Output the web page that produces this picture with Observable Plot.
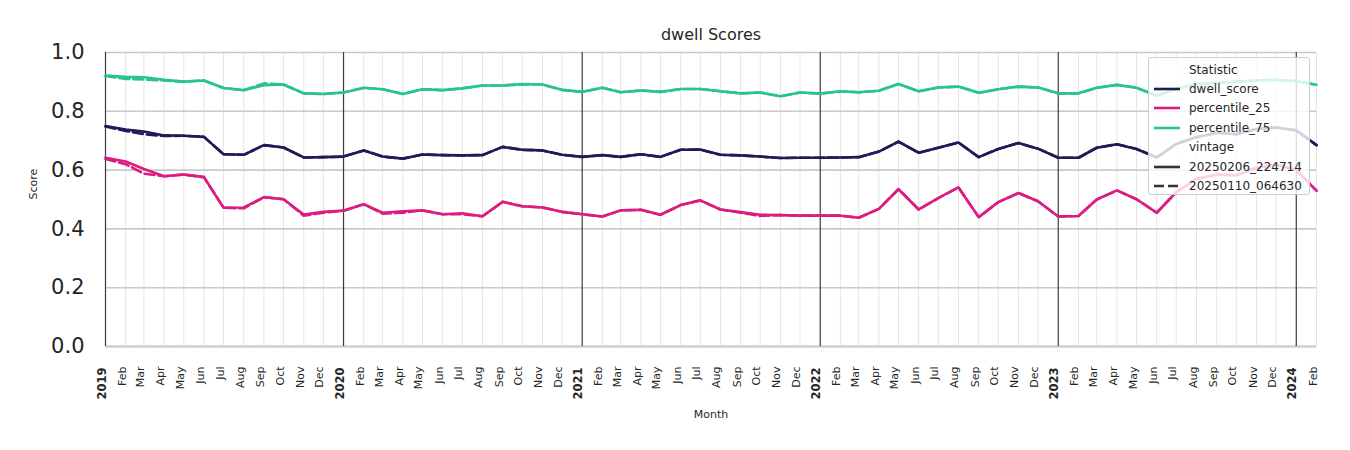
<!DOCTYPE html>
<html><head><meta charset="utf-8">
<script src="https://cdn.jsdelivr.net/npm/d3@7"></script>
<script src="https://cdn.jsdelivr.net/npm/@observablehq/plot@0.6"></script>
<style>
body{margin:0;background:#fff;font-family:"DejaVu Sans",sans-serif;}
#wrap{position:relative;width:1350px;height:450px;}
.legend{position:absolute;left:1148px;top:57px;width:162px;height:138px;background:rgba(255,255,255,0.8);border:1px solid #cccccc;border-radius:3px;box-sizing:border-box;}
.row{position:absolute;left:0;height:18px;line-height:18px;font-size:12px;color:#262626;white-space:nowrap;}
.row svg{position:absolute;left:3px;top:0;}
.row span{position:absolute;left:40px;top:0;}
</style></head><body><div id="wrap"></div>
<script>
// ---- data ----
const stats = ["dwell_score", "percentile_25", "percentile_75"];
const statColors = ["#1e1b58", "#dc1c80", "#28c48f"];
const vintages = ["20250206_224714", "20250110_064630"];
const yTicks = [0, 0.2, 0.4, 0.6, 0.8, 1.0];
const months = d3.utcMonth.range(new Date(Date.UTC(2019, 0, 1)), new Date(Date.UTC(2024, 2, 1)));

// vintage 20250206_224714 (solid)
const dwellScore = [
  0.750, 0.738, 0.731, 0.718, 0.717, 0.713, 0.654, 0.652, 0.685, 0.677, 0.643, 0.644,
  0.646, 0.667, 0.646, 0.639, 0.653, 0.651, 0.650, 0.651, 0.679, 0.669, 0.667, 0.652,
  0.645, 0.651, 0.645, 0.654, 0.645, 0.669, 0.670, 0.652, 0.650, 0.646, 0.641, 0.642,
  0.642, 0.643, 0.644, 0.663, 0.697, 0.659, 0.676, 0.694, 0.644, 0.672, 0.692, 0.673,
  0.642, 0.642, 0.676, 0.688, 0.672, 0.643, 0.689, 0.712, 0.727, 0.722, 0.740, 0.745,
  0.735, 0.685];
const percentile25 = [
  0.642, 0.629, 0.604, 0.579, 0.585, 0.576, 0.472, 0.473, 0.508, 0.501, 0.449, 0.458,
  0.462, 0.484, 0.455, 0.460, 0.463, 0.450, 0.453, 0.443, 0.492, 0.477, 0.473, 0.458,
  0.450, 0.442, 0.463, 0.465, 0.448, 0.481, 0.497, 0.466, 0.457, 0.448, 0.447, 0.445,
  0.445, 0.445, 0.438, 0.468, 0.535, 0.466, 0.505, 0.541, 0.440, 0.491, 0.522, 0.494,
  0.442, 0.444, 0.500, 0.531, 0.501, 0.455, 0.525, 0.570, 0.585, 0.582, 0.608, 0.619,
  0.600, 0.530];
const percentile75 = [
  0.922, 0.917, 0.916, 0.907, 0.901, 0.905, 0.879, 0.872, 0.889, 0.891, 0.861, 0.859,
  0.864, 0.880, 0.875, 0.859, 0.875, 0.872, 0.878, 0.888, 0.888, 0.893, 0.891, 0.873,
  0.866, 0.880, 0.865, 0.871, 0.866, 0.876, 0.876, 0.868, 0.861, 0.864, 0.851, 0.864,
  0.860, 0.868, 0.865, 0.870, 0.893, 0.868, 0.881, 0.884, 0.863, 0.875, 0.884, 0.881,
  0.861, 0.861, 0.880, 0.890, 0.880, 0.853, 0.876, 0.893, 0.897, 0.901, 0.905, 0.907,
  0.902, 0.890];

// vintage 20250110_064630 (dashed)
const dwellScoreOld = [
  0.748, 0.733, 0.722, 0.716, 0.717, 0.713, 0.654, 0.652, 0.685, 0.677, 0.643, 0.644,
  0.646, 0.667, 0.646, 0.639, 0.653, 0.651, 0.650, 0.651, 0.679, 0.669, 0.667, 0.652,
  0.645, 0.651, 0.645, 0.654, 0.645, 0.669, 0.670, 0.652, 0.650, 0.646, 0.641, 0.642,
  0.642, 0.643, 0.644, 0.663, 0.697, 0.659, 0.676, 0.694, 0.644, 0.672, 0.692, 0.673,
  0.642, 0.642, 0.676, 0.688, 0.672, 0.643, 0.689, 0.712, 0.727, 0.722, 0.740, 0.745,
  0.735, 0.685];
const percentile25Old = [
  0.638, 0.620, 0.588, 0.579, 0.585, 0.576, 0.472, 0.470, 0.508, 0.501, 0.445, 0.455,
  0.462, 0.484, 0.452, 0.455, 0.463, 0.450, 0.450, 0.443, 0.492, 0.477, 0.473, 0.458,
  0.450, 0.442, 0.463, 0.465, 0.448, 0.481, 0.497, 0.466, 0.455, 0.444, 0.447, 0.445,
  0.445, 0.445, 0.438, 0.468, 0.535, 0.466, 0.505, 0.541, 0.440, 0.491, 0.522, 0.494,
  0.442, 0.444, 0.500, 0.531, 0.501, 0.455, 0.525, 0.570, 0.585, 0.582, 0.608, 0.619,
  0.600, 0.530];
const percentile75Old = [
  0.920, 0.910, 0.908, 0.905, 0.901, 0.905, 0.879, 0.872, 0.895, 0.891, 0.861, 0.859,
  0.864, 0.880, 0.875, 0.859, 0.875, 0.872, 0.878, 0.888, 0.888, 0.891, 0.891, 0.873,
  0.866, 0.880, 0.865, 0.871, 0.866, 0.876, 0.876, 0.868, 0.861, 0.864, 0.851, 0.864,
  0.860, 0.868, 0.865, 0.870, 0.893, 0.868, 0.881, 0.884, 0.863, 0.875, 0.884, 0.881,
  0.861, 0.861, 0.880, 0.890, 0.880, 0.853, 0.876, 0.893, 0.897, 0.901, 0.905, 0.907,
  0.902, 0.890];

// ---- build table ----
const seriesByVintage = {
  [vintages[0]]: [dwellScore, percentile25, percentile75],
  [vintages[1]]: [dwellScoreOld, percentile25Old, percentile75Old]
};
const rows = [];
for (const v of vintages) {
  seriesByVintage[v].forEach((vals, si) => {
    vals.forEach((val, i) => rows.push({date: months[i], value: val, stat: stats[si], vintage: v}));
  });
}
const solidRows = rows.filter(d => d.vintage === vintages[0]);
const dashedRows = rows.filter(d => d.vintage === vintages[1]);
const yearMonths = months.filter(d => d.getUTCMonth() === 0);
const otherMonths = months.filter(d => d.getUTCMonth() !== 0);
const fmtMonth = d3.utcFormat("%b");

const chart = Plot.plot({
  width: 1350, height: 450,
  marginLeft: 105, marginRight: 34, marginTop: 52, marginBottom: 104,
  style: {fontFamily: "DejaVu Sans", background: "white", overflow: "visible"},
  x: {type: "utc", domain: [months[0], months[months.length - 1]], axis: null},
  y: {domain: [0, 1], axis: null},
  color: {domain: stats, range: statColors},
  marks: [
    Plot.ruleX(otherMonths, {stroke: "#e2e2e2", strokeWidth: 0.9}),
    Plot.ruleY(yTicks.filter(d => d > 0), {stroke: "#c9c9c9", strokeWidth: 1.6}),
    Plot.ruleY([0], {stroke: "#cfcfcf", strokeWidth: 2.6}),
    Plot.ruleX(yearMonths, {stroke: "#3b3b3b", strokeWidth: 1.2}),
    Plot.line(dashedRows, {x: "date", y: "value", z: "stat", stroke: "stat", strokeWidth: 2.6, strokeDasharray: "10,4", strokeLinejoin: "round"}),
    Plot.line(solidRows, {x: "date", y: "value", z: "stat", stroke: "stat", strokeWidth: 2.6, strokeLinejoin: "round"}),
    Plot.text(otherMonths, {x: d => d, text: d => fmtMonth(d), frameAnchor: "bottom", dy: 20, rotate: -90, textAnchor: "end", fontSize: 11, fill: "#262626"}),
    Plot.text(yearMonths, {x: d => d, text: d => String(d.getUTCFullYear()), frameAnchor: "bottom", dy: 21, rotate: -90, textAnchor: "end", fontSize: 11.5, fontWeight: "bold", fill: "#262626"}),
    Plot.text(yTicks, {y: d => d, text: d => d.toFixed(1), frameAnchor: "left", dx: -21, textAnchor: "end", fontSize: 21, fill: "#262626"}),
    Plot.text(["Score"], {frameAnchor: "left", dx: -72, rotate: -90, fontSize: 11, fill: "#262626"}),
    Plot.text(["Month"], {frameAnchor: "bottom", dy: 71, fontSize: 11, fill: "#262626"}),
    Plot.text(["dwell Scores"], {frameAnchor: "top", dy: -24, fontSize: 16, fill: "#262626"})
  ]
});
const wrap = document.getElementById("wrap");
wrap.appendChild(chart);

// ---- legend ----
const legend = document.createElement("div");
legend.className = "legend";
const legendItems = [
  {label: "Statistic", header: true},
  ...stats.map((s, i) => ({label: s, color: statColors[i], dash: null})),
  {label: "vintage", header: true},
  {label: vintages[0], color: "#333333", dash: null},
  {label: vintages[1], color: "#333333", dash: "10,4"}
];
const rowCenters = [12, 31, 50, 70, 89, 109, 128];
legendItems.forEach((item, i) => {
  const r = document.createElement("div");
  r.className = "row";
  r.style.top = (rowCenters[i] - 9) + "px";
  let html = "";
  if (!item.header) {
    html += `<svg width="30" height="18"><line x1="2" x2="28" y1="9" y2="9" stroke="${item.color}" stroke-width="2.6"${item.dash ? ` stroke-dasharray="${item.dash}"` : ""}/></svg>`;
  }
  html += `<span>${item.label}</span>`;
  r.innerHTML = html;
  r.style.width = "160px";
  legend.appendChild(r);
});
wrap.appendChild(legend);
</script>
</body></html>
